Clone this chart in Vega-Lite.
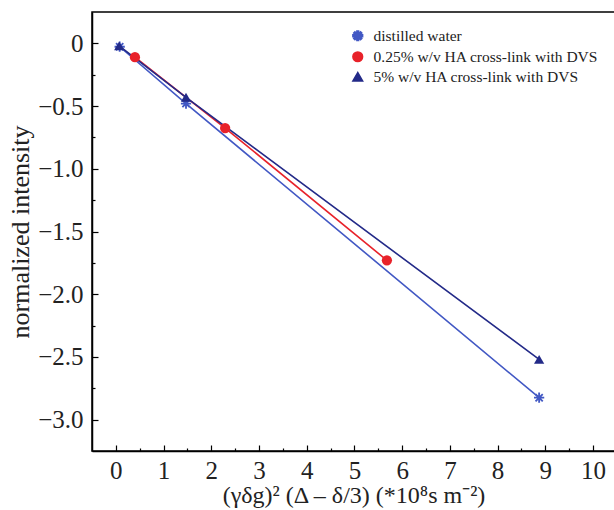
{
  "$schema": "https://vega.github.io/schema/vega-lite/v6.json",
  "width": 523,
  "height": 439,
  "autosize": {"type": "none"},
  "padding": {"left": 92, "top": 12, "right": 0, "bottom": 59},
  "background": "white",
  "config": {
    "view": {"stroke": "black", "strokeWidth": 1.5},
    "font": "Liberation Serif"
  },
  "data": {
    "values": [
      {"series": "distilled water", "x": 0.08, "y": -0.027},
      {"series": "distilled water", "x": 1.47, "y": -0.48},
      {"series": "distilled water", "x": 8.87, "y": -2.825},
      {"series": "0.25% w/v HA cross-link with DVS", "x": 0.40, "y": -0.11},
      {"series": "0.25% w/v HA cross-link with DVS", "x": 2.29, "y": -0.675},
      {"series": "0.25% w/v HA cross-link with DVS", "x": 5.68, "y": -1.73},
      {"series": "5% w/v HA cross-link with DVS", "x": 0.07, "y": -0.02},
      {"series": "5% w/v HA cross-link with DVS", "x": 1.47, "y": -0.43},
      {"series": "5% w/v HA cross-link with DVS", "x": 8.87, "y": -2.52}
    ]
  },
  "encoding": {
    "x": {
      "field": "x", "type": "quantitative",
      "scale": {"domain": [-0.5, 10.46], "nice": false, "zero": false},
      "axis": {
        "values": [0,0.5,1,1.5,2,2.5,3,3.5,4,4.5,5,5.5,6,6.5,7,7.5,8,8.5,9,9.5,10],
        "labelExpr": "datum.value % 1 === 0 ? format(datum.value, 'd') : ''",
        "tickSize": {"condition": {"test": "datum.value % 1 === 0", "value": -6}, "value": -3},
        "tickColor": "black", "domainColor": "black", "domainWidth": 1.5, "tickWidth": 1.2,
        "grid": false, "labelFont": "Liberation Serif", "labelFontSize": 25, "labelColor": "#222",
        "labelPadding": 13, "labelFlush": false, "labelOverlap": false,
        "title": "(γδg)² (Δ – δ/3) (*10⁸s m⁻²)",
        "titleFont": "Liberation Serif", "titleFontSize": 24, "titleFontWeight": "normal", "titleColor": "#222",
        "titleBaseline": "alphabetic", "titleY": 51
      }
    },
    "y": {
      "field": "y", "type": "quantitative",
      "scale": {"domain": [-3.25, 0.25], "nice": false, "zero": false},
      "axis": {
        "values": [-3,-2.75,-2.5,-2.25,-2,-1.75,-1.5,-1.25,-1,-0.75,-0.5,-0.25,0],
        "labelExpr": "abs(datum.value % 0.5) < 0.001 ? (datum.value === 0 ? '0' : format(datum.value, '.1f')) : ''",
        "tickSize": {"condition": {"test": "abs(datum.value % 0.5) < 0.001", "value": -6}, "value": -3},
        "tickColor": "black", "domainColor": "black", "domainWidth": 1.5, "tickWidth": 1.2,
        "grid": false, "labelFont": "Liberation Serif", "labelFontSize": 25, "labelColor": "#222",
        "labelPadding": 15, "labelFlush": false, "labelOverlap": false,
        "title": "normalized intensity",
        "titleFont": "Liberation Serif", "titleFontSize": 26, "titleFontWeight": "normal", "titleColor": "#222",
        "titlePadding": 4
      }
    },
    "color": {
      "field": "series", "type": "nominal",
      "scale": {
        "domain": ["distilled water", "0.25% w/v HA cross-link with DVS", "5% w/v HA cross-link with DVS"],
        "range": ["#4258c4", "#e8222a", "#232a88"]
      },
      "legend": {
        "title": null, "orient": "top-right", "offset": 16,
        "labelFont": "Liberation Serif", "labelFontSize": 15.5, "labelColor": "#222", "labelLimit": 400,
        "symbolSize": 95, "rowPadding": 3, "labelOffset": 8, "padding": 0, "symbolOpacity": 1
      }
    }
  },
  "layer": [
    {
      "mark": {"type": "line", "strokeWidth": 1.6},
      "encoding": {}
    },
    {
      "mark": {"type": "point", "filled": true, "opacity": 1},
      "encoding": {
        "shape": {
          "field": "series", "type": "nominal",
          "scale": {
            "domain": ["distilled water", "0.25% w/v HA cross-link with DVS", "5% w/v HA cross-link with DVS"],
            "range": [
              "M-1,-0.18L1,-0.18L1,0.18L-1,0.18Z M-0.18,-1L0.18,-1L0.18,1L-0.18,1Z M-0.834,-0.580L-0.580,-0.834L0.834,0.580L0.580,0.834Z M-0.834,0.580L0.580,-0.834L0.834,-0.580L-0.580,0.834Z",
              "circle",
              "triangle-up"
            ]
          },
          "legend": {
            "title": null, "orient": "top-right", "offset": 16,
            "labelFont": "Liberation Serif", "labelFontSize": 15.5, "labelColor": "#222", "labelLimit": 400,
            "symbolSize": 95, "rowPadding": 3, "labelOffset": 8, "padding": 0, "symbolOpacity": 1
          }
        },
        "size": {"value": 105}
      }
    }
  ]
}
